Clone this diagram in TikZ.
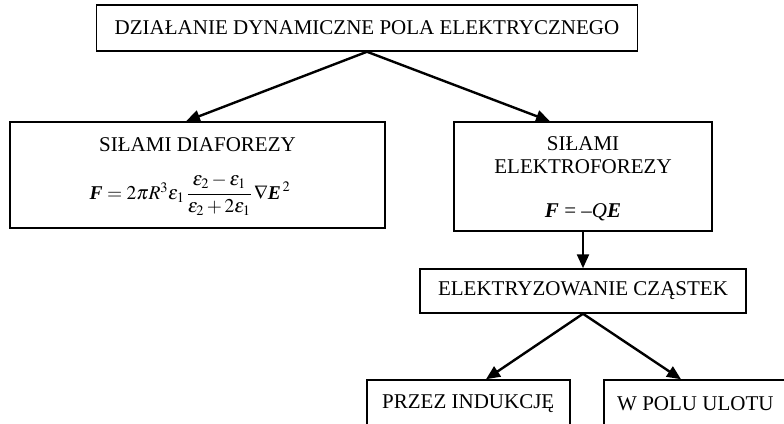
\documentclass[tikz,border=0pt]{standalone}
\usepackage{amsmath}
\usepackage{mathptmx}
\usepackage{fontspec}
\setmainfont{Liberation Serif}
\usetikzlibrary{arrows.meta}
\newcommand{\bfit}[1]{\textbf{\textit{#1}}}
\begin{document}
\begin{tikzpicture}[x=1pt,y=-1pt,
  box/.style={draw, line width=1.5pt, rectangle, inner sep=0pt},
  lbl/.style={inner sep=0pt, font=\fontsize{21}{24}\selectfont, align=center},
  frm/.style={inner sep=0pt, font=\fontsize{19.5}{22}\selectfont},
  arr/.style={line width=2.4pt, -{Triangle[length=14pt,width=12pt]}}]
\useasboundingbox (0,0) rectangle (784,423);
\clip (0,0) rectangle (784,423);
% boxes
\node[box, minimum width=541pt, minimum height=46pt] (top) at (367,28) {};
\node[box, minimum width=375pt, minimum height=106pt] (dia) at (197.5,175) {};
\node[box, minimum width=258pt, minimum height=109pt] (ele) at (583,176.5) {};
\node[box, minimum width=326pt, minimum height=44pt] (elz) at (583,291) {};
\node[box, minimum width=203pt, minimum height=80pt] (ind) at (468.5,420) {};
\node[box, minimum width=200pt, minimum height=80pt] (ulot) at (704,420) {};
% texts
\node[lbl] (ttop) at (367,28) {DZIAŁANIE DYNAMICZNE POLA ELEKTRYCZNEGO};
\node[lbl] (tdia) at (197.5,145) {SIŁAMI DIAFOREZY};
\node[frm] (fdia) at (190,195) {$\bfit{F} = 2\pi R^{3}\varepsilon_{1}\,\dfrac{\varepsilon_{2}-\varepsilon_{1}}{\varepsilon_{2}+2\varepsilon_{1}}\,\nabla \bfit{E}^{\,2}$};
\node[lbl] (tele) at (583,155) {SIŁAMI\\[-1pt]ELEKTROFOREZY};
\node[lbl] (fele) at (583,212) {\bfit{F} = –\textit{Q}\bfit{E}};
\node[lbl] (telz) at (583,291) {ELEKTRYZOWANIE CZĄSTEK};
\node[lbl, anchor=west] (tind) at (382,404) {PRZEZ INDUKCJĘ};
\node[lbl, anchor=west] (tulot) at (617,404) {W POLU ULOTU};
% arrows
\coordinate (a1) at (top.south);
\draw[arr] (a1) -- (dia.north -| 186,0);
\draw[arr] (a1) -- (ele.north -| 550,0);
\draw[arr] (ele.south -| elz.north) -- (elz.north);
\coordinate (a2) at (elz.south);
\draw[arr] (a2) -- (ind.north -| 486,0);
\draw[arr] (a2) -- (ulot.north -| 681,0);
\end{tikzpicture}
\end{document}
